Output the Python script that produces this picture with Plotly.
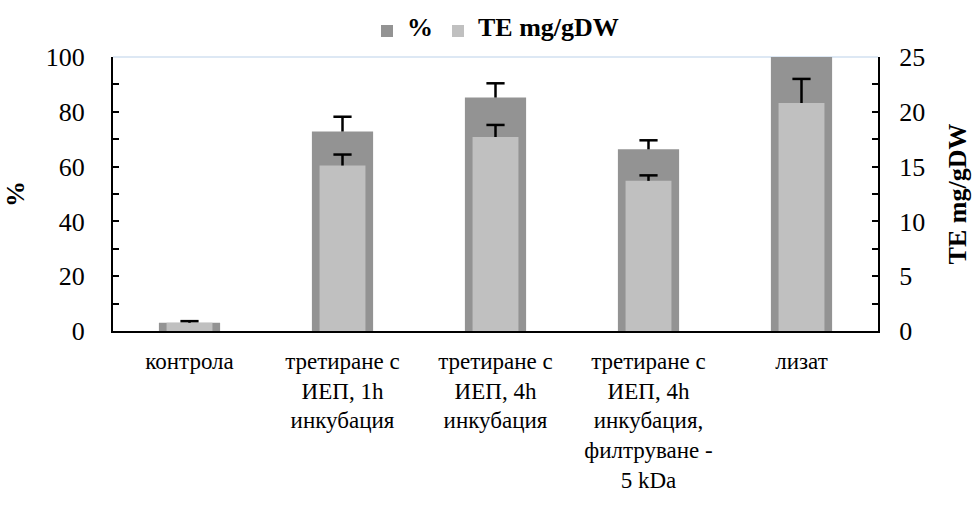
import plotly.graph_objects as go

categories = [
    "контрола",
    "третиране с ИЕП, 1h инкубация",
    "третиране с ИЕП, 4h инкубация",
    "третиране с ИЕП, 4h инкубация, филтруване - 5 kDa",
    "лизат",
]
category_lines = [
    ["контрола"],
    ["третиране с", "ИЕП, 1h", "инкубация"],
    ["третиране с", "ИЕП, 4h", "инкубация"],
    ["третиране с", "ИЕП, 4h", "инкубация,", "филтруване -", "5 kDa"],
    ["лизат"],
]
series_names = ["%", "TE mg/gDW"]
percent_values = [3.0, 72.8, 85.2, 66.3, 100.0]
percent_errors = [0.0, 5.4, 5.2, 3.3, 0.0]
te_values = [0.75, 15.1, 17.7, 13.7, 20.8]
te_errors = [0.15, 1.0, 1.1, 0.5, 2.2]

FONT = "Liberation Serif"
BOLD_FONT = "Times New Roman"
DARK = "#939393"
LIGHT = "#c0c0c0"
TEXT_SIZE = 26


def legend_name(text):
    # bold, larger glyphs inside a small base font keeps the legend box short
    return f'<span style="font-size:{TEXT_SIZE}px;font-family:{BOLD_FONT}"><b>{text}</b></span>'


def cap_trace(values, errors, axis):
    # upper-only error bar: a cap marker at value+error with a stem down to the bar top
    xs = [c for c, e in zip(categories, errors) if e > 0]
    tops = [v + e for v, e in zip(values, errors) if e > 0]
    errs = [e for e in errors if e > 0]
    return go.Scatter(
        x=xs, y=tops, yaxis=axis, mode="markers", showlegend=False, hoverinfo="skip",
        marker=dict(symbol="line-ew", size=13, color="black",
                    line=dict(color="black", width=2.5)),
        error_y=dict(type="data", array=[0] * len(errs), arrayminus=errs,
                     symmetric=False, color="black", thickness=2.5, width=0),
        cliponaxis=False,
    )


fig = go.Figure()
fig.add_trace(go.Bar(
    x=categories, y=percent_values, name=legend_name(series_names[0]), yaxis="y",
    marker=dict(color=DARK, line=dict(width=0)), width=0.4,
))
fig.add_trace(cap_trace(percent_values, percent_errors, "y"))
fig.add_trace(go.Bar(
    x=categories, y=te_values, name=legend_name(series_names[1]), yaxis="y2",
    marker=dict(color=LIGHT, line=dict(width=0)), width=0.3,
))
fig.add_trace(cap_trace(te_values, te_errors, "y2"))

axis_common = dict(
    showline=True, linecolor="black", linewidth=2,
    ticks="inside", ticklen=6, tickwidth=2, tickcolor="black",
    showgrid=False, zeroline=False,
    tickfont=dict(family=FONT, size=TEXT_SIZE, color="black"),
)

fig.update_layout(
    width=979, height=505,
    margin=dict(l=113, r=94, t=57, b=164),
    paper_bgcolor="white", plot_bgcolor="white",
    barmode="overlay",
    font=dict(family=FONT, color="black"),
    showlegend=True,
    legend=dict(orientation="h", x=0.5, xanchor="center",
                y=1.035, yanchor="bottom",
                font=dict(family=BOLD_FONT, size=14, color="black"),
                traceorder="normal", itemwidth=30),
    xaxis=dict(
        showline=True, linecolor="black", linewidth=2,
        ticks="outside", ticklen=8, tickcolor="rgba(0,0,0,0)",
        tickmode="array", tickvals=categories,
        ticktext=["<br>".join(lines) for lines in category_lines],
        tickfont=dict(family=FONT, size=23, color="black"),
        showgrid=False, zeroline=False,
    ),
    yaxis=dict(
        range=[0, 100], dtick=20, **axis_common, ticklabelstandoff=21,
        minor=dict(ticks="inside", dtick=10, ticklen=6, tickwidth=2, tickcolor="black"),
        title=dict(text=f"<b>{series_names[0]}</b>",
                   font=dict(family=BOLD_FONT, size=TEXT_SIZE, color="black"), standoff=14),
    ),
    yaxis2=dict(
        range=[0, 25], dtick=5, overlaying="y", side="right", **axis_common, ticklabelstandoff=14,
        minor=dict(ticks="inside", dtick=2.5, ticklen=6, tickwidth=2, tickcolor="black"),
        title=dict(text=f"<b>{series_names[1]}</b>",
                   font=dict(family=BOLD_FONT, size=TEXT_SIZE, color="black"), standoff=24),
    ),
    shapes=[dict(type="line", xref="paper", yref="paper", x0=0, x1=1, y0=1, y1=1,
                 line=dict(color="#dde8f4", width=2), layer="below")],
)

fig.write_html("out.html")
